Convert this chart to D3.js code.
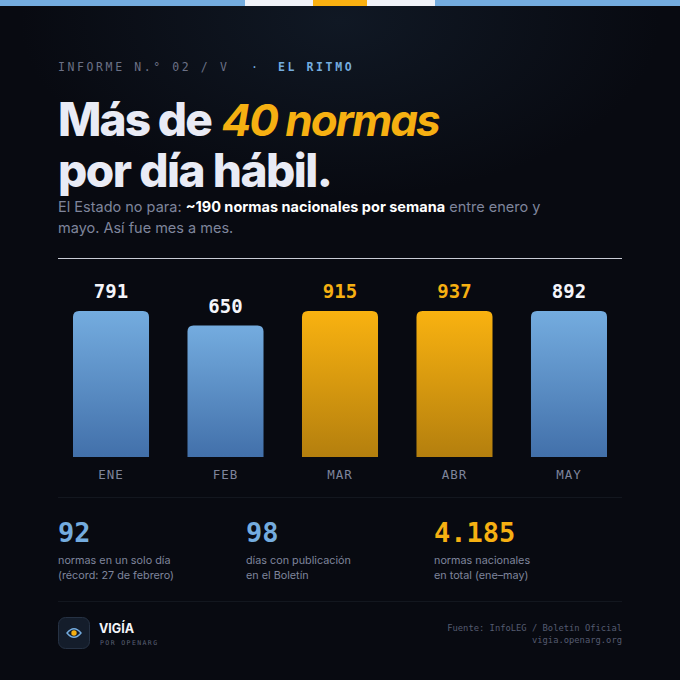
<!DOCTYPE html>
<html>
<head>
<meta charset="utf-8">
<style>
html, body { margin:0; padding:0; background:#080a11; }
svg { display:block; }
.sans { font-family:'Inter',sans-serif; }
.mono { font-family:'DejaVu Sans Mono',monospace; }
</style>
<script src="https://cdn.jsdelivr.net/npm/d3@7"></script>
</head>
<body>
<svg id="chart" width="680" height="680"></svg>
<script>
var months = ['ENE','FEB','MAR','ABR','MAY'];
var normas = [791,650,915,937,892];
var highlighted = ['MAR','ABR'];
var statValues = ['92','98','4.185'];
var statLines = [
	['normas en un solo día','(récord: 27 de febrero)'],
	['días con publicación','en el Boletín'],
	['normas nacionales','en total (ene–may)']
];
var stripeColors = ['#74acdf','#f0f2f8','#fbb111','#f0f2f8','#74acdf'];
var stripeStops = [0,245,313,367,435,680];

var BLUE = '#74acdf', GOLD = '#f6b012', INK = '#e9ebf5', MUTED = '#7f859c';
var svg = d3.select('#chart');
var defs = svg.append('defs');

var bg = defs.append('radialGradient').attr('id','bg')
	.attr('gradientUnits','userSpaceOnUse').attr('cx',340).attr('cy',20).attr('r',320)
	.attr('gradientTransform','translate(0,10) scale(1,0.55)');
bg.append('stop').attr('offset',0).attr('stop-color','#101824');
bg.append('stop').attr('offset',1).attr('stop-color','#080a11');

var grad = function(id, top, bottom) {
	var g = defs.append('linearGradient').attr('id',id).attr('x1',0).attr('x2',0).attr('y1',0).attr('y2',1);
	g.append('stop').attr('offset',0).attr('stop-color',top);
	g.append('stop').attr('offset',1).attr('stop-color',bottom);
};
grad('barBlue','#74acdf','#4270aa');
grad('barGold','#f9b210','#b47f0e');

svg.append('rect').attr('width',680).attr('height',680).attr('fill','#080a11');
svg.append('rect').attr('width',680).attr('height',680).attr('fill','url(#bg)');

// top stripe
svg.selectAll('.stripe').data(stripeColors).enter().append('rect')
	.attr('class','stripe')
	.attr('x',function(d,i) { return stripeStops[i]; })
	.attr('y',0).attr('height',6)
	.attr('width',function(d,i) { return stripeStops[i+1]-stripeStops[i]; })
	.attr('fill',function(d) { return d; });

// header
var kicker = svg.append('text').attr('class','mono').attr('x',58).attr('y',71)
	.style('font-size','11.5px').style('letter-spacing','2.6px').attr('fill','#6b7186');
kicker.append('tspan').text('INFORME N.° 02 / V');
kicker.append('tspan').attr('x',251).attr('fill',BLUE).text('·');
kicker.append('tspan').attr('x',278).attr('fill',BLUE).style('font-weight',700).text('EL RITMO');

var t1 = svg.append('text').attr('class','sans').attr('x',58).attr('y',136)
	.style('font-size','46px').style('font-weight',800).attr('fill',INK);
t1.append('tspan').style('letter-spacing','-1.8px').text('Más de');
t1.append('tspan').attr('x',221.5).attr('fill',GOLD)
	.style('font-size','44px').style('font-weight',700).style('font-style','italic').style('letter-spacing','-2px').text('40 normas');
svg.append('text').attr('class','sans').attr('x',58).attr('y',187)
	.style('font-size','46px').style('font-weight',800).style('letter-spacing','-1.5px').attr('fill',INK)
	.text('por día hábil.');

var s1 = svg.append('text').attr('class','sans').attr('x',58).attr('y',212)
	.style('font-size','14.5px').attr('fill',MUTED);
s1.append('tspan').text('El Estado no para: ');
s1.append('tspan').attr('fill','#fff').style('font-weight',700).text('~190 normas nacionales por semana');
s1.append('tspan').text(' entre enero y');
svg.append('text').attr('class','sans').attr('x',58).attr('y',233)
	.style('font-size','14.5px').attr('fill',MUTED).text('mayo. Así fue mes a mes.');

svg.append('rect').attr('x',58).attr('width',564).attr('y',258).attr('height',1).attr('fill','#c9ccd6');

// bars. the reference clips every bar above ~722 at the same height
var x = d3.scaleBand().domain(months).range([73,607]).paddingInner(0.336).paddingOuter(0);
var y = d3.scaleLinear().domain([0,722]).range([457,311]).clamp(true);
var isHot = function(m) { return highlighted.indexOf(m) >= 0; };
var rows = months.map(function(m,i) { return { month:m, value:normas[i] }; });

svg.selectAll('.bar').data(rows).enter().append('path')
	.attr('class','bar')
	.attr('d',function(d) {
		var l = x(d.month), w = x.bandwidth(), t = y(d.value), b = y(0), r = 6;
		return 'M'+l+','+b+'V'+(t+r)+'Q'+l+','+t+' '+(l+r)+','+t+'H'+(l+w-r)+'Q'+(l+w)+','+t+' '+(l+w)+','+(t+r)+'V'+b+'Z';
	})
	.attr('fill',function(d) { return isHot(d.month) ? 'url(#barGold)' : 'url(#barBlue)'; });

svg.selectAll('.val').data(rows).enter().append('text')
	.attr('class','val mono')
	.attr('x',function(d) { return x(d.month)+x.bandwidth()/2; })
	.attr('y',function(d) { return y(d.value)-13; })
	.attr('text-anchor','middle')
	.style('font-size','19px').style('font-weight',700)
	.attr('fill',function(d) { return isHot(d.month) ? GOLD : '#f4f5fa'; })
	.text(function(d) { return d.value; });

var axis = svg.append('g').attr('transform','translate(0,457)')
	.call(d3.axisBottom(x).tickSize(0).tickPadding(13));
axis.select('.domain').remove();
axis.selectAll('text').attr('class','mono').style('font-family',"'DejaVu Sans Mono',monospace")
	.style('font-size','12.5px').style('letter-spacing','0.9px').attr('fill','#7f859c');

svg.append('rect').attr('x',58).attr('width',564).attr('y',497).attr('height',1).attr('fill','#13171f');
svg.append('rect').attr('x',58).attr('width',564).attr('y',601).attr('height',1).attr('fill','#13171f');

// stats
var statX = [58,246,434];
var statColor = [BLUE,BLUE,GOLD];
statValues.forEach(function(v,i) {
	svg.append('text').attr('class','mono').attr('x',statX[i]).attr('y',542)
		.style('font-size','27px').style('font-weight',700).attr('fill',statColor[i]).text(v);
	statLines[i].forEach(function(l,j) {
		svg.append('text').attr('class','sans').attr('x',statX[i]).attr('y',564+j*14.5)
			.style('font-size','10.8px').attr('fill','#7f859c').text(l);
	});
});

// footer
svg.append('rect').attr('x',58.5).attr('y',617.5).attr('width',31).attr('height',31).attr('rx',7)
	.attr('fill','#141d2b').attr('stroke','#263244');
svg.append('path').attr('d','M67,633Q74,624.5 81,633Q74,641.5 67,633Z')
	.attr('fill','none').attr('stroke',BLUE).attr('stroke-width',1.4);
svg.append('circle').attr('cx',74).attr('cy',633).attr('r',2.7).attr('fill',GOLD);
svg.append('text').attr('class','sans').attr('x',99).attr('y',633)
	.style('font-size','12.5px').style('font-weight',700).attr('fill','#f4f5fa').text('VIGÍA');
svg.append('text').attr('class','mono').attr('x',100).attr('y',645)
	.style('font-size','6.5px').style('letter-spacing','1.4px').attr('fill','#5b6176').text('POR OPENARG');
svg.append('text').attr('class','mono').attr('x',622).attr('y',631).attr('text-anchor','end')
	.style('font-size','8.8px').attr('fill','#555b70').text('Fuente: InfoLEG / Boletín Oficial');
svg.append('text').attr('class','mono').attr('x',622).attr('y',643).attr('text-anchor','end')
	.style('font-size','8.8px').attr('fill','#555b70').text('vigia.openarg.org');
</script>
</body>
</html>
